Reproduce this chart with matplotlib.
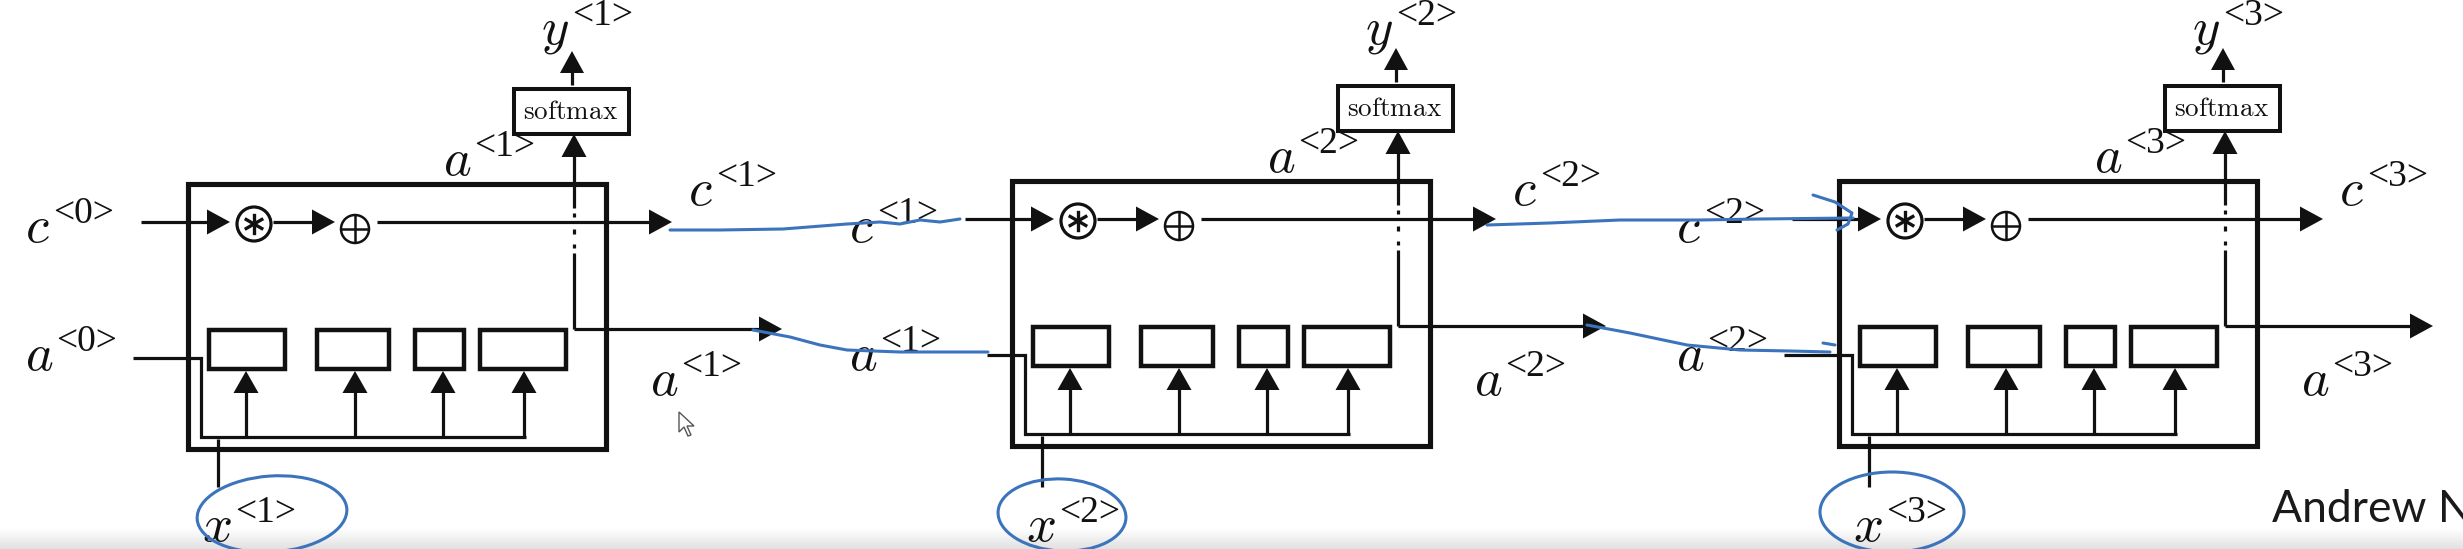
import numpy as np
import matplotlib
matplotlib.use('Agg')
import matplotlib.pyplot as plt
from matplotlib.patches import Rectangle, Circle, Ellipse, Polygon

plt.rcParams['mathtext.fontset'] = 'cm'

# Labels of the unrolled LSTM
steps = [1, 2, 3]
prev_steps = [0, 1, 2]
output_name = 'softmax'
gate_widths = [76, 72, 49, 86]
gate_offsets = [21, 129, 227, 292]
signature = 'Andrew Ng'

# layout (pixels of the 2463x549 canvas)
W, H = 2463, 549
cell_left = [188, 1012, 1839]
cell_dy = [3, 0, 0]
a_in_start = [-55, -25, -55]
ink = '#111111'
blue = '#3b74bd'

fig = plt.figure(figsize=(W / 100, H / 100), dpi=100)
ax = fig.add_axes([0, 0, 1, 1])
ax.set_xlim(0, W)
ax.set_ylim(H, 0)
ax.axis('off')
renderer = fig.canvas.get_renderer()


def arrow(x0, y0, x1, y1, lw=2.3, hl=23, hw=25):
    d = np.hypot(x1 - x0, y1 - y0)
    ux, uy = (x1 - x0) / d, (y1 - y0) / d
    bx, by = x1 - ux * hl, y1 - uy * hl
    ax.plot([x0, bx + ux * 2], [y0, by + uy * 2], color=ink, lw=lw, solid_capstyle='butt')
    px, py = -uy, ux
    ax.add_patch(Polygon([(x1, y1), (bx + px * hw / 2, by + py * hw / 2),
                          (bx - px * hw / 2, by - py * hw / 2)], closed=True,
                         color=ink, lw=0))


def line(xs, ys, lw=2.3, color=ink):
    ax.plot(xs, ys, color=color, lw=lw, solid_capstyle='butt', solid_joinstyle='miter')


def label(x, y, letter, t, size=38):
    txt = ax.text(x, y, f'${letter}$', fontsize=size, ha='left', va='baseline', color=ink)
    x1 = txt.get_window_extent(renderer=renderer).x1
    ax.text(x1 + 3, y - 19, f'<{t}>', fontsize=27, family='Liberation Serif',
            ha='left', va='baseline', color=ink)


for i, t in enumerate(steps):
    x0 = cell_left[i]
    dy = cell_dy[i]
    cy = 219 + dy
    ay = 326 + dy
    sx = x0 + 386

    # cell frame
    ax.add_patch(Rectangle((x0, 181 + dy), 418, 265, fill=False, ec=ink, lw=3.7))

    # memory-cell path
    arrow(x0 - 47, cy, x0 + 42, cy)
    ax.add_patch(Circle((x0 + 66, cy + 2), 17, fill=False, ec=ink, lw=2.3))
    for ang in (90, 30, 150):
        r = np.radians(ang)
        ax.plot([x0 + 66 - 9 * np.cos(r), x0 + 66 + 9 * np.cos(r)],
                [cy + 2 - 9 * np.sin(r), cy + 2 + 9 * np.sin(r)], color=ink, lw=2.4)
    arrow(x0 + 85, cy, x0 + 147, cy)
    ax.add_patch(Circle((x0 + 167, cy + 7), 14, fill=False, ec=ink, lw=1.8))
    line([x0 + 153, x0 + 181], [cy + 7, cy + 7], lw=1.8)
    line([x0 + 167, x0 + 167], [cy - 7, cy + 21], lw=1.8)
    arrow(x0 + 189, cy, x0 + 484, cy)

    # hidden state up to softmax, with a broken crossing over the c line
    line([sx, sx], [ay, cy + 31])
    for a, b in [(cy + 22, cy + 26), (cy + 7, cy + 12), (cy - 9, cy - 5)]:
        line([sx, sx], [a, b])
    arrow(sx, cy - 14, sx, 131 + dy)
    arrow(sx, ay, x0 + 594, ay)

    # softmax and output
    ax.add_patch(Rectangle((x0 + 326, 86 + dy), 115, 45, fill=False, ec=ink, lw=2.9))
    ax.text(x0 + 383, 109 + dy, r'$\mathrm{' + output_name + '}$', fontsize=19.5,
            ha='center', va='center', color=ink)
    arrow(sx - 2, 82 + dy, sx - 2, 48 + dy, hl=22, hw=24)

    # gates
    line([x0 + a_in_start[i], x0 + 13, x0 + 13, x0 + 338],
         [355 + dy, 355 + dy, 434 + dy, 434 + dy])
    for off, wd in zip(gate_offsets, gate_widths):
        ax.add_patch(Rectangle((x0 + off, 327 + dy), wd, 39, fill=False, ec=ink, lw=3.2))
    for gx in [58, 167, 255, 336]:
        arrow(x0 + gx, 434 + dy, x0 + gx, 368 + dy, hl=22, hw=25)
    line([x0 + 30, x0 + 30], [487, 436 + dy])

    # labels
    label(x0 - 163, 242, 'c', prev_steps[i])
    label(x0 - 163, 370, 'a', prev_steps[i])
    label(sx - 33, 44, 'y', t)
    label(x0 + 255, 172 + dy, 'a', t)
    label(x0 + 500, 205, 'c', t)
    label(x0 + 462, 395, 'a', t)
    label(x0 + 14, 541, 'x', t)

# light grey strip at the bottom of the slide
grad = np.linspace(1.0, 0.88, 40).reshape(-1, 1)
ax.imshow(grad, cmap='gray', vmin=0, vmax=1, extent=[0, W, 549, 528], aspect='auto', zorder=0)

# hand-drawn blue strokes
strokes = [
    [(670, 230), (720, 230), (783, 229), (847, 224), (880, 222), (900, 224), (920, 220), (940, 222), (960, 219)],
    [(753, 330), (790, 337), (820, 345), (847, 350), (900, 352), (988, 352)],
    [(1487, 225), (1550, 223), (1620, 220), (1700, 220), (1760, 219), (1853, 218)],
    [(1813, 195), (1835, 202), (1852, 213), (1848, 224), (1837, 230)],
    [(1587, 325), (1630, 333), (1687, 345), (1740, 350), (1790, 351), (1830, 352)],
    [(1823, 343), (1835, 345)],
]
for s in strokes:
    xs, ys = zip(*s)
    ax.plot(xs, ys, color=blue, lw=2.2, solid_capstyle='round', zorder=5)

for (ex, ey, ew, eh, ang) in [(272, 514, 150, 76, -4), (1062, 515, 128, 72, 3), (1892, 512, 144, 80, 0)]:
    ax.add_patch(Ellipse((ex, ey), ew, eh, angle=ang, fill=False, ec=blue, lw=2.2, zorder=5))

# mouse cursor
ax.add_patch(Polygon([(679, 412), (679, 432), (684, 427), (688, 436), (691, 435), (687, 426), (694, 426)],
                     closed=True, fc='white', ec='#555555', lw=1.0, zorder=6))

ax.text(2272, 522, signature, fontsize=32, family='Lato', ha='left', va='baseline', color='#1a1a1a')

fig.savefig('out.png', dpi=100)
